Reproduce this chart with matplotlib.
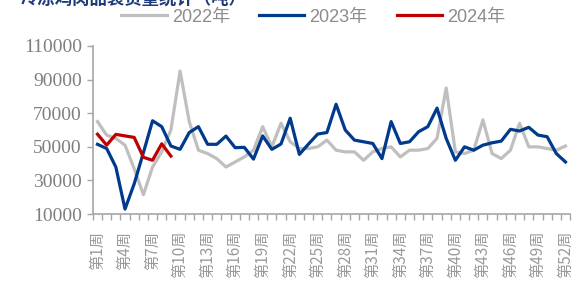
import matplotlib
matplotlib.use("Agg")
import matplotlib.pyplot as plt
from matplotlib import font_manager as fm
import numpy as np

weeks = [f"第{i}周" for i in range(1, 53)]
label_weeks = list(range(1, 53, 3))

s2022 = [65000, 57000, 55000, 51000, 37000, 21500, 38000, 47000, 60000, 95000,
         65000, 48000, 46000, 43000, 38000, 41000, 44000, 48000, 62000, 50000,
         64000, 53000, 49000, 49000, 50000, 54000, 48000, 47000, 47000, 42000,
         47000, 49000, 50000, 44000, 48000, 48000, 49000, 55000, 85000, 47000,
         46000, 48000, 66000, 46000, 43000, 48000, 64000, 50000, 50000, 49000,
         48000, 50500]
s2023 = [51500, 49000, 38000, 13000, 28000, 46500, 65500, 62000, 50500, 48500,
         58500, 62000, 51500, 51500, 56400, 49500, 49700, 42700, 56500, 48500,
         51700, 67000, 45500, 51700, 57600, 58500, 75300, 60000, 54000, 53000,
         52000, 43000, 65000, 52000, 53000, 59000, 62000, 73000, 55000, 42000,
         50000, 48000, 51000, 52400, 53400, 60400, 59400, 61600, 57000, 56000,
         46000, 41000]
s2024 = [57500, 51000, 57400, 56500, 55600, 43800, 42000, 51800, 44500]

yticks = [10000, 30000, 50000, 70000, 90000, 110000]

names = {f.name for f in fm.fontManager.ttflist}
narrow = 'Liberation Sans Narrow' if 'Liberation Sans Narrow' in names else 'Liberation Sans'

fig = plt.figure(figsize=(5.77, 3.02), dpi=100)
ax = fig.add_axes([0.161, 0.291, 0.827, 0.557])

x = np.arange(52)
ax.plot(x, s2022, color='#BFBFBF', lw=2.3, label='2022年', solid_joinstyle='round')
ax.plot(x, s2023, color='#003A8C', lw=2.3, label='2023年', solid_joinstyle='round')
ax.plot(np.arange(len(s2024)), s2024, color='#C00000', lw=2.3, label='2024年', solid_joinstyle='round')

ax.set_xlim(-0.5, 51.5)
ax.set_ylim(10000, 110000)
ax.set_yticks(yticks)
ax.set_yticklabels([str(v) for v in yticks], family='Liberation Serif', fontsize=14, color='#7F7F7F')
ax.tick_params(axis='y', length=4, width=1, color='#A6A6A6', pad=4)

ax.set_xticks([w - 1 for w in label_weeks])
ax.set_xticklabels([weeks[w - 1] for w in label_weeks], rotation=90,
                   family=['Noto Sans CJK SC', 'DejaVu Sans'], fontsize=11, color='#9A9A9A',
                   ha='center', va='top')
ax.tick_params(axis='x', which='major', length=0, pad=12)
ax.set_xticks(np.arange(-0.5, 52, 1), minor=True)
ax.tick_params(axis='x', which='minor', length=4, width=1, color='#A6A6A6')

for s in ['top', 'right']:
    ax.spines[s].set_visible(False)
for s in ['left', 'bottom']:
    ax.spines[s].set_color('#A6A6A6')
    ax.spines[s].set_linewidth(1.2)

leg = fig.legend(loc='center', bbox_to_anchor=(0.543, 0.943), ncol=3, frameon=False,
                 prop={'family': [narrow, 'Noto Sans CJK SC'], 'size': 13},
                 handlelength=2.5, handletextpad=0.3, columnspacing=1.6, labelcolor='#8C8C8C')

fig.text(0.035, 1.005, "冷冻鸡肉品装货量统计（吨）", family=['Noto Sans CJK SC', 'DejaVu Sans'],
         fontsize=12.5, fontweight='bold', color='#1F3A78', va='center', ha='left')

fig.savefig('out.png', dpi=100)
